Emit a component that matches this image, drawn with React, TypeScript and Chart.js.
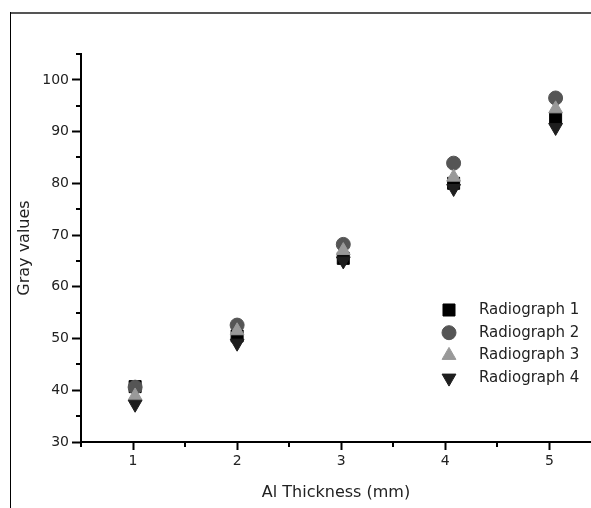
import { useEffect, useRef } from 'react';
import { Chart, registerables } from 'chart.js';
import { drawPoint } from 'chart.js/helpers';

Chart.register(...registerables);

// ---- data ----
const thickness = [1.02, 2.0, 3.02, 4.08, 5.06];
const radiograph1 = [40.7, 50.5, 65.5, 80.0, 92.6];
const radiograph2 = [40.6, 52.6, 68.2, 83.9, 96.5];
const radiograph3 = [38.9, 51.5, 67.0, 81.2, 94.4];
const radiograph4 = [37.3, 49.1, 65.0, 79.0, 90.8];
const seriesLabels = ['Radiograph 1', 'Radiograph 2', 'Radiograph 3', 'Radiograph 4'];

const xMajorTicks = [1, 2, 3, 4, 5];
const xMinorTicks = [0.5, 1.5, 2.5, 3.5, 4.5];
const yMajorTicks = [30, 40, 50, 60, 70, 80, 90, 100];
const yMinorTicks = [35, 45, 55, 65, 75, 85, 95, 105];

// ---- styles ----
const seriesColors = ['#000000', '#555555', '#999999', '#1e1e1e'];
const seriesShapes = ['rect', 'circle', 'triangle', 'triangle'];
const seriesRotation = [0, 0, 0, 180];
const seriesRadius = [8.5, 7, 8, 8];
const FONT = '"DejaVu Sans", "Liberation Sans", Arial, sans-serif';

const minorTicksPlugin = {
  id: 'minorTicks',
  afterDraw(chart: any) {
    const { ctx } = chart;
    const xs = chart.scales.x;
    const ys = chart.scales.y;
    ctx.save();
    ctx.strokeStyle = '#000';
    ctx.lineWidth = 2;
    ctx.beginPath();
    const axisX = ys.right;
    yMinorTicks.forEach((v) => {
      const py = Math.round(ys.getPixelForValue(v));
      ctx.moveTo(axisX - 5, py);
      ctx.lineTo(axisX, py);
    });
    const axisY = xs.top;
    xMinorTicks.forEach((v) => {
      const px = Math.round(xs.getPixelForValue(v));
      ctx.moveTo(px, axisY);
      ctx.lineTo(px, axisY + 5);
    });
    ctx.stroke();
    ctx.restore();
  },
};

const insideLegendPlugin = {
  id: 'insideLegend',
  afterDatasetsDraw(chart: any, _args: any, opts: any) {
    const { ctx } = chart;
    chart.data.datasets.forEach((ds: any, i: number) => {
      const y = opts.y + i * opts.rowHeight;
      ctx.save();
      ctx.fillStyle = ds.backgroundColor;
      ctx.strokeStyle = ds.borderColor;
      ctx.lineWidth = 1;
      drawPoint(
        ctx,
        { pointStyle: ds.pointStyle, rotation: ds.rotation, radius: ds.pointRadius, borderWidth: 1 } as any,
        opts.markerX,
        y
      );
      ctx.fillStyle = '#222';
      ctx.font = `15px ${FONT}`;
      ctx.textBaseline = 'middle';
      ctx.textAlign = 'left';
      ctx.fillText(ds.label, opts.textX, y);
      ctx.restore();
    });
  },
};

export default function App() {
  const canvasRef = useRef<HTMLCanvasElement | null>(null);

  useEffect(() => {
    if (!canvasRef.current) return;
    const seriesValues = [radiograph1, radiograph2, radiograph3, radiograph4];
    const chart = new Chart(canvasRef.current, {
      type: 'scatter',
      data: {
        datasets: seriesValues.map((vals, i) => ({
          label: seriesLabels[i],
          data: vals.map((v, j) => ({ x: thickness[j], y: v })),
          backgroundColor: seriesColors[i],
          borderColor: seriesColors[i],
          borderWidth: 1,
          pointStyle: seriesShapes[i] as any,
          rotation: seriesRotation[i],
          pointRadius: seriesRadius[i],
          pointHoverRadius: seriesRadius[i],
          order: 4 - i,
        })),
      },
      options: {
        animation: false,
        responsive: false,
        maintainAspectRatio: false,
        layout: { autoPadding: false, padding: { top: 54, left: 0, right: 0, bottom: 0 } },
        plugins: {
          legend: { display: false },
          tooltip: { enabled: false },
          insideLegend: { markerX: 449, textX: 479, y: 310, rowHeight: 22.7 },
        } as any,
        scales: {
          x: {
            type: 'linear',
            min: 0.5,
            max: 5.4,
            afterBuildTicks: (scale: any) => {
              scale.ticks = xMajorTicks.map((v) => ({ value: v }));
            },
            afterFit: (scale: any) => {
              scale.height = 66;
            },
            grid: {
              drawOnChartArea: false,
              tickLength: 8,
              tickWidth: 2,
              tickColor: '#000',
              color: '#000',
            },
            border: { display: true, color: '#000', width: 2 },
            ticks: {
              color: '#222',
              font: { family: FONT, size: 14 },
              padding: 3,
              maxRotation: 0,
              callback: (v: any) => String(v),
            },
            title: {
              display: true,
              text: 'Al Thickness (mm)',
              color: '#222',
              font: { family: FONT, size: 16 },
              padding: { top: 0, bottom: 6 },
            },
          },
          y: {
            type: 'linear',
            min: 30,
            max: 105,
            afterBuildTicks: (scale: any) => {
              scale.ticks = yMajorTicks.map((v) => ({ value: v }));
            },
            afterFit: (scale: any) => {
              scale.width = 81;
            },
            grid: {
              drawOnChartArea: false,
              tickLength: 9,
              tickWidth: 2,
              tickColor: '#000',
              color: '#000',
            },
            border: { display: true, color: '#000', width: 2 },
            ticks: {
              color: '#222',
              font: { family: FONT, size: 14 },
              padding: 3,
              callback: (v: any) => String(v),
            },
            title: {
              display: true,
              text: 'Gray values',
              color: '#222',
              font: { family: FONT, size: 16 },
              padding: { top: 15, bottom: 0 },
            },
          },
        },
      },
      plugins: [minorTicksPlugin, insideLegendPlugin],
    });
    return () => chart.destroy();
  }, []);

  return (
    <div
      style={{
        position: 'fixed',
        left: 0,
        top: 0,
        width: 591,
        height: 508,
        overflow: 'hidden',
        background: '#fff',
      }}
    >
      <canvas ref={canvasRef} width={591} height={508} style={{ position: 'absolute', left: 0, top: 0 }} />
      <div style={{ position: 'absolute', left: 10, top: 12, width: 581, height: 2, background: '#555' }} />
      <div style={{ position: 'absolute', left: 10, top: 12, width: 1, height: 496, background: '#000' }} />
    </div>
  );
}
